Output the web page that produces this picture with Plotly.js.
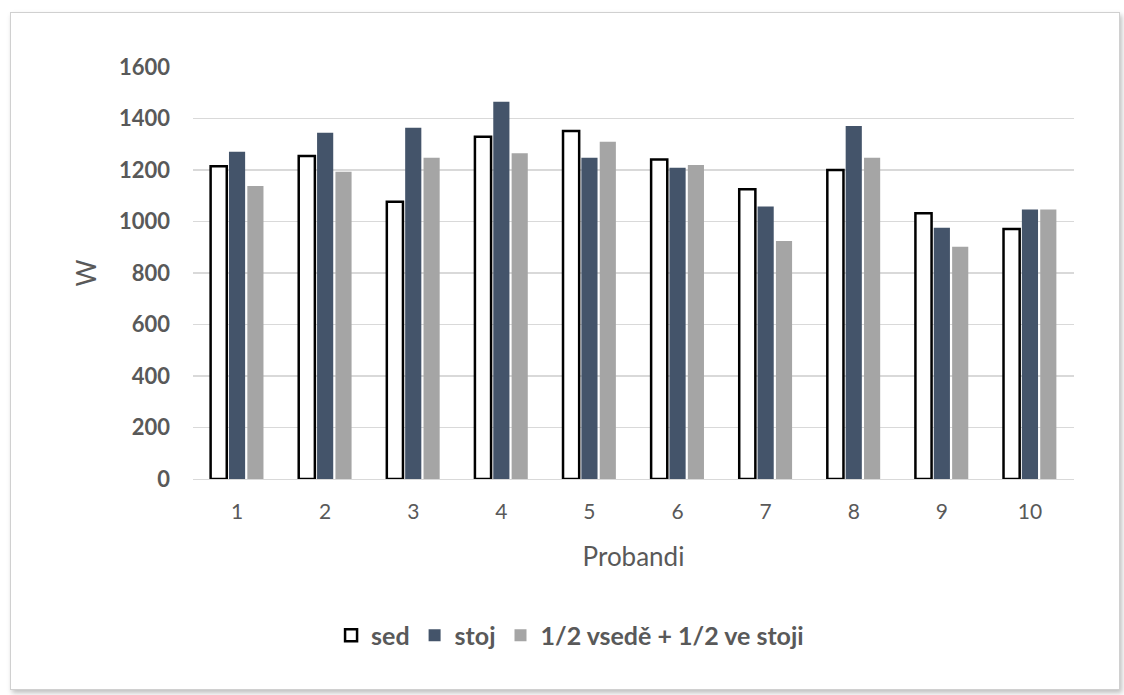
<!DOCTYPE html>
<html>
<head>
<meta charset="utf-8">
<script src="https://cdn.plot.ly/plotly-3.0.1.min.js"></script>
<style>
  html, body { margin: 0; padding: 0; background: #ffffff; }
  #frame { position: absolute; left: 10px; top: 12px; width: 1108px; height: 676px;
           border: 1px solid #d0d0d0; box-shadow: 2px 3px 5px rgba(0,0,0,0.25); background: #fff; }
  #chart { position: absolute; left: 0; top: 0; width: 1124px; height: 695px; }
</style>
</head>
<body>
<div id="frame"></div>
<div id="chart"></div>
<script>
const categories = ["1","2","3","4","5","6","7","8","9","10"];
const sed  = [1215, 1254, 1077, 1329, 1351, 1241, 1125, 1200, 1032, 971];
const stoj = [1271, 1345, 1364, 1465, 1248, 1209, 1058, 1371, 976, 1047];
const pul  = [1138, 1193, 1248, 1265, 1310, 1219, 924, 1248, 902, 1047];
const yTicks = [0, 200, 400, 600, 800, 1000, 1200, 1400, 1600];

const font = "Lato, 'Open Sans', 'Liberation Sans', sans-serif";

const traces = [
  { type: "bar", name: "sed", x: categories, y: sed,
    marker: { color: "#ffffff", line: { color: "#000000", width: 2.5 } } },
  { type: "bar", name: "stoj", x: categories, y: stoj,
    marker: { color: "#44546A", line: { color: "#44546A", width: 0 } } },
  { type: "bar", name: "1/2 vsedě + 1/2 ve stoji", x: categories, y: pul,
    marker: { color: "#A5A5A5", line: { color: "#A5A5A5", width: 0 } } }
];

const layout = {
  width: 1124, height: 695,
  paper_bgcolor: "rgba(0,0,0,0)", plot_bgcolor: "rgba(0,0,0,0)",
  margin: { l: 193, r: 50, t: 67, b: 216 },
  barmode: "group", bargap: 0.375, bargroupgap: 0.12,
  font: { family: font, color: "#595959" },
  showlegend: true,
  legend: { orientation: "h", x: 0.428, xanchor: "center", y: -0.38, yanchor: "middle",
            font: { family: font, size: 25, color: "#595959", weight: "bold" },
            traceorder: "normal", itemwidth: 30 },
  xaxis: {
    type: "category", tickvals: categories, ticktext: categories,
    showgrid: false, showline: true, linecolor: "#d9d9d9", linewidth: 1,
    tickfont: { family: font, size: 21, color: "#595959" },
    ticks: "", ticklabelstandoff: 14,
    title: { text: "Probandi", font: { family: font, size: 26, color: "#595959" }, standoff: 25 },
    fixedrange: true
  },
  yaxis: {
    range: [0, 1600], tickvals: yTicks, ticktext: yTicks.map(String),
    showgrid: true, gridcolor: "#d9d9d9", gridwidth: 1.5, zeroline: false, showline: false,
    tickfont: { family: font, size: 22, color: "#595959", weight: "bold" },
    ticks: "", ticklabelstandoff: 22,
    title: { text: "W", font: { family: font, size: 26, color: "#595959" }, standoff: 14 },
    fixedrange: true
  }
};

Plotly.newPlot("chart", traces, layout, { displayModeBar: false, staticPlot: true });
</script>
</body>
</html>
